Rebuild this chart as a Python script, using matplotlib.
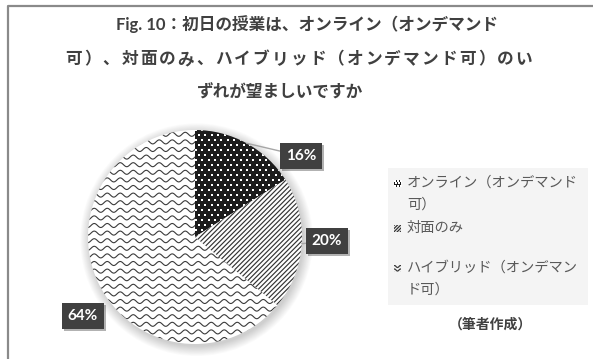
import numpy as np
import matplotlib
matplotlib.use("Agg")
import matplotlib.pyplot as plt
import matplotlib.patheffects as pe
from matplotlib.patches import Rectangle, Circle
from matplotlib.collections import LineCollection

# chart data
title_lines = [
    "Fig. 10：初日の授業は、オンライン（オンデマンド",
    "可）、対面のみ、ハイブリッド（オンデマンド可）のい",
    "ずれが望ましいですか",
]
categories = ["オンライン（オンデマンド可）", "対面のみ", "ハイブリッド（オンデマンド可）"]
shares = [16, 20, 64]
source_note = "（筆者作成）"

W, H = 593, 359
CJK = ["Noto Sans CJK JP", "DejaVu Sans"]
LATIN_CJK = ["Lato", "Noto Sans CJK JP", "DejaVu Sans"]


def add_dots(ax, clip, ext, sx, sy, size, color="white"):
    x0, x1, y0, y1 = ext
    xs, ys = [], []
    for i, y in enumerate(np.arange(y0, y1, sy)):
        off = (i % 2) * sx / 2
        for x in np.arange(x0 - sx, x1 + sx, sx):
            xs.append(x + off)
            ys.append(y)
    sc = ax.scatter(xs, ys, s=size, c=color, marker="s", linewidths=0, zorder=3)
    sc.set_clip_path(clip)


def add_diag(ax, clip, ext, gap, sign=1, lw=1.0, color="#333333"):
    x0, x1, y0, y1 = ext
    span = (x1 - x0) + (y1 - y0)
    segs = []
    for c in np.arange(-span, span, gap):
        segs.append([(x0, y0 + c), (x1, y0 + c + sign * (x1 - x0))])
    lc = LineCollection(segs, colors=color, linewidths=lw, zorder=3)
    ax.add_collection(lc)
    lc.set_clip_path(clip)


def add_waves(ax, clip, ext, gap, period, amp, lw=1.0, color="#3a3a3a"):
    x0, x1, y0, y1 = ext
    xs = np.linspace(x0, x1, 600)
    segs = [np.column_stack([xs, y + amp * np.sin(2 * np.pi * xs / period)])
            for y in np.arange(y0, y1 + gap, gap)]
    lc = LineCollection(segs, colors=color, linewidths=lw, zorder=3)
    ax.add_collection(lc)
    lc.set_clip_path(clip)


def spaced_text(ax, renderer, text, left, right, y, **kw):
    # spread the characters so the line fills left..right
    widths = []
    for ch in text:
        t = ax.text(0, y, ch, ha="left", va="center", **kw)
        widths.append(t.get_window_extent(renderer).width)
        t.remove()
    extra = (right - left - sum(widths)) / max(len(text) - 1, 1)
    x = left
    for ch, w in zip(text, widths):
        ax.text(x, y, ch, ha="left", va="center", **kw)
        x += w + extra


fig = plt.figure(figsize=(W / 100, H / 100), dpi=100)
renderer = fig.canvas.get_renderer()
bg = fig.add_axes([0, 0, 1, 1])
bg.set_xlim(0, W)
bg.set_ylim(H, 0)
bg.axis("off")

# frame
bg.plot([8, 8, W], [H, 5.5, 5.5], color="#8a8a8a", lw=1.6, solid_capstyle="butt")

# title
title_kw = dict(fontsize=12, fontweight="bold", color="#404040", family=LATIN_CJK)
bg.text(307, 24, title_lines[0], ha="center", va="center", **title_kw)
spaced_text(bg, renderer, title_lines[1], 65, 532, 59, **title_kw)
bg.text(280, 92, title_lines[2], ha="center", va="center", **title_kw)

# pie
cx, cy, r = 195, 237, 107
ax = fig.add_axes([(cx - r) / W, 1 - (cy + r) / H, 2 * r / W, 2 * r / H])
ax.set_zorder(2)
wedges, _ = ax.pie(shares, startangle=90, counterclock=False, radius=1,
                   colors=["#1c1c1c", "white", "white"],
                   wedgeprops=dict(linewidth=0))
ax.set_xlim(-1, 1)
ax.set_ylim(-1, 1)
ax.axis("off")

for i in range(12):
    ax.add_patch(Circle((0.015, -0.025), 1 + 0.008 * i, fc="black", alpha=0.016,
                        lw=0, zorder=0, clip_on=False))

px = 1 / r
ext = (-1.1, 1.1, -1.1, 1.1)
add_dots(ax, wedges[0], ext, 6.4 * px, 5.0 * px, 2.4)
add_diag(ax, wedges[1], ext, 4.8 * px, sign=1, lw=0.85)
add_waves(ax, wedges[2], ext, 7.6 * px, 13 * px, 2.0 * px, lw=0.8)
for w in wedges:
    w.set_zorder(1)

label_pos = [(0.99, 0.757), (1.234, -0.037), (-1.047, -0.738)]
show_leader = [True, True, False]
for w, v, pos, lead in zip(wedges, shares, label_pos, show_leader):
    mid = np.deg2rad((w.theta1 + w.theta2) / 2)
    anchor = (np.cos(mid), np.sin(mid))
    arrow = dict(arrowstyle="-", color="#a6a6a6", lw=1.0, shrinkA=0, shrinkB=0) if lead else None
    t = ax.annotate(f"{v}%", xy=anchor, xytext=pos, ha="center", va="center",
                    fontsize=11, fontweight="bold", color="white", family=["Lato", "DejaVu Sans"],
                    bbox=dict(boxstyle="square,pad=0.38", fc="#404040", ec="none"),
                    arrowprops=arrow, annotation_clip=False, zorder=5)
    t.get_bbox_patch().set_path_effects(
        [pe.withSimplePatchShadow(offset=(1.5, -1.5), shadow_rgbFace="black", alpha=0.3), pe.Normal()])

# legend
bg.add_patch(Rectangle((388, 168), 200, 137, fc="#f4f4f4", ec="none", zorder=1))
row_y = [183, 228, 268]
line_gap = 22
for k, (name, y) in enumerate(zip(categories, row_y)):
    box = Rectangle((394, y - 3.5), 7, 7, fc="#1c1c1c" if k == 0 else "#f4f4f4",
                    ec="none", zorder=2)
    bg.add_patch(box)
    mext = (393, 402, y - 5, y + 5)
    if k == 0:
        add_dots(bg, box, mext, 3.0, 2.6, 1.2)
    elif k == 1:
        add_diag(bg, box, mext, 3.2, sign=-1, lw=0.9)
    else:
        add_waves(bg, box, mext, 3.5, 6, 1.0, lw=0.9)
    parts = [name[i:i + 12] for i in range(0, len(name), 12)]
    for j, part in enumerate(parts):
        bg.text(407, y + j * line_gap, part, ha="left", va="center", fontsize=10.3,
                color="#595959", family=CJK)

bg.text(490, 325, source_note, ha="center", va="center", fontsize=10,
        fontweight="bold", color="#404040", family=CJK)

fig.savefig("out.png", dpi=100)
